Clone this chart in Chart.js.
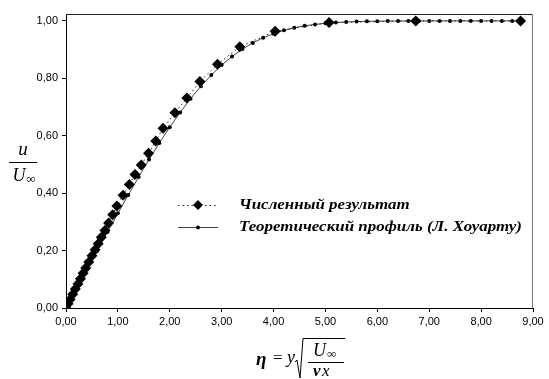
<!DOCTYPE html>
<html>
<head>
<meta charset="utf-8">
<script src="https://cdn.jsdelivr.net/npm/chart.js@4.4.1/dist/chart.umd.min.js"></script>
<style>
html,body{margin:0;padding:0;background:#fff;}
#wrap{position:relative;width:549px;height:379px;}
</style>
</head>
<body>
<div id="wrap"><canvas id="c" width="549" height="379"></canvas></div>
<script>
// Numerical result (diamonds, dotted line)
const numEta = [0.00,0.04,0.08,0.13,0.18,0.23,0.28,0.33,0.38,0.44,0.50,0.56,0.62,0.68,0.75,0.82,0.90,0.98,1.10,1.22,1.33,1.45,1.59,1.73,1.87,2.10,2.33,2.58,2.92,3.35,4.03,5.07,6.74,8.76];
const numU   = [0.000,0.015,0.030,0.048,0.066,0.084,0.102,0.121,0.139,0.160,0.182,0.203,0.224,0.246,0.270,0.296,0.325,0.355,0.393,0.430,0.465,0.498,0.539,0.582,0.626,0.680,0.731,0.789,0.849,0.910,0.964,0.994,1.000,1.000];
// Theoretical profile (Howarth), small dots, solid line
const theoryEta = [0.0,0.2,0.4,0.6,0.8,1.0,1.2,1.4,1.6,1.8,2.0,2.2,2.4,2.6,2.8,3.0,3.2,3.4,3.6,3.8,4.0,4.2,4.4,4.6,4.8,5.0,5.2,5.4,5.6,5.8,6.0,6.2,6.4,6.6,6.8,7.0,7.2,7.4,7.6,7.8,8.0,8.2,8.4,8.6,8.8];
const theoryU   = [0.0000,0.0664,0.1328,0.1989,0.2647,0.3298,0.3938,0.4563,0.5168,0.5748,0.6298,0.6813,0.7290,0.7725,0.8115,0.8461,0.8761,0.9018,0.9233,0.9411,0.9555,0.9670,0.9759,0.9827,0.9878,0.9916,0.9943,0.9962,0.9975,0.9984,0.9990,0.9994,0.9996,0.9998,0.9999,0.9999,1.0000,1.0000,1.0000,1.0000,1.0000,1.0000,1.0000,1.0000,1.0000];
const xTicks = [0,1,2,3,4,5,6,7,8,9];
const yTicks = [0,0.2,0.4,0.6,0.8,1.0];
const seriesNames = ['Численный результат','Теоретический профиль (Л. Хоуарту)'];

const fmt = v => v.toFixed(2).replace('.', ',');

const overlay = {
  id: 'overlay',
  afterDraw(chart) {
    const ctx = chart.ctx;
    const a = chart.chartArea;
    ctx.save();
    // frame top & right
    ctx.lineWidth = 1;
    ctx.strokeStyle = '#222';
    ctx.beginPath(); ctx.moveTo(a.left, a.top + 0.5); ctx.lineTo(a.right, a.top + 0.5); ctx.stroke();
    ctx.strokeStyle = '#777';
    ctx.beginPath(); ctx.moveTo(a.right - 0.5, a.top); ctx.lineTo(a.right - 0.5, a.bottom); ctx.stroke();

    // legend
    const lx0 = 178, lx1 = 218, lm = 198;
    const rows = [205, 227];
    ctx.strokeStyle = '#222';
    ctx.setLineDash([1.5, 3]);
    ctx.beginPath(); ctx.moveTo(lx0, rows[0] + 0.5); ctx.lineTo(lx1, rows[0] + 0.5); ctx.stroke();
    ctx.setLineDash([]);
    ctx.fillStyle = '#000';
    ctx.beginPath(); ctx.moveTo(lm, rows[0] - 5); ctx.lineTo(lm + 5, rows[0]); ctx.lineTo(lm, rows[0] + 5); ctx.lineTo(lm - 5, rows[0]); ctx.closePath(); ctx.fill();
    ctx.strokeStyle = '#444';
    ctx.beginPath(); ctx.moveTo(lx0, rows[1] + 0.5); ctx.lineTo(lx1, rows[1] + 0.5); ctx.stroke();
    ctx.beginPath(); ctx.arc(lm, rows[1] + 0.5, 2, 0, Math.PI * 2); ctx.fill();
    ctx.font = 'bold italic 15px "Liberation Serif"';
    ctx.textBaseline = 'middle';
    ctx.textAlign = 'left';
    const w = ctx.measureText(seriesNames[1]).width;
    const sx = 283 / w;
    ctx.save();
    ctx.translate(239, 0);
    ctx.scale(sx, 1);
    ctx.fillText(seriesNames[0], 0, rows[0]);
    ctx.fillText(seriesNames[1], 0, rows[1]);
    ctx.restore();

    // y-axis title u / U∞
    ctx.textAlign = 'center';
    ctx.font = 'italic 19px "Liberation Serif"';
    ctx.fillText('u', 23, 150);
    ctx.strokeStyle = '#000';
    ctx.beginPath(); ctx.moveTo(9, 162.5); ctx.lineTo(37, 162.5); ctx.stroke();
    ctx.font = 'italic 18px "Liberation Serif"';
    ctx.fillText('U', 19, 176);
    ctx.font = '13px "Liberation Serif"';
    ctx.fillText('∞', 31, 180);

    // x-axis title η = y sqrt(U∞/νx)
    ctx.textAlign = 'left';
    ctx.font = 'bold italic 19px "Liberation Serif"';
    ctx.fillText('η', 256, 360);
    ctx.font = '17px "Liberation Serif"';
    ctx.fillText('=', 273, 359);
    ctx.font = 'italic 18px "Liberation Serif"';
    ctx.fillText('y', 287, 358);
    // radical
    ctx.lineWidth = 1;
    ctx.beginPath();
    ctx.moveTo(295, 362); ctx.lineTo(297, 360); ctx.lineTo(300, 378); ctx.lineTo(303, 338.5); ctx.lineTo(345, 338.5);
    ctx.stroke();
    ctx.beginPath(); ctx.moveTo(308, 362.5); ctx.lineTo(344, 362.5); ctx.stroke();
    ctx.font = 'italic 18px "Liberation Serif"';
    ctx.fillText('U', 313, 351);
    ctx.font = '13px "Liberation Serif"';
    ctx.fillText('∞', 327, 355);
    ctx.font = 'bold italic 17px "Liberation Serif"';
    ctx.fillText('ν', 313, 372);
    ctx.font = 'italic 17px "Liberation Serif"';
    ctx.fillText('x', 322, 372);
    ctx.restore();
  }
};

new Chart(document.getElementById('c'), {
  type: 'scatter',
  data: {
    datasets: [
      {
        label: seriesNames[0],
        data: numEta.map((x, i) => ({x, y: numU[i]})),
        showLine: true,
        borderColor: '#222',
        borderWidth: 1,
        borderDash: [1.5, 3],
        pointStyle: 'rectRot',
        pointRadius: 5.5,
        pointBackgroundColor: '#000',
        pointBorderColor: '#000',
        pointBorderWidth: 0,
        order: 1
      },
      {
        label: seriesNames[1],
        data: theoryEta.map((x, i) => ({x, y: theoryU[i]})),
        showLine: true,
        borderColor: '#444',
        borderWidth: 1,
        pointStyle: 'circle',
        pointRadius: 2,
        pointBackgroundColor: '#000',
        pointBorderColor: '#000',
        pointBorderWidth: 0,
        order: 2
      }
    ]
  },
  options: {
    responsive: false,
    animation: false,
    devicePixelRatio: 1,
    layout: {padding: {top: 14, right: 16, left: 0, bottom: 0}},
    plugins: {legend: {display: false}, tooltip: {enabled: false}},
    scales: {
      x: {
        type: 'linear', min: 0, max: 9,
        afterBuildTicks: s => { s.ticks = xTicks.map(v => ({value: v})); },
        afterFit: s => { s.height = 71; },
        ticks: {callback: v => fmt(v), color: '#000', font: {family: '"Liberation Sans"', size: 11}, padding: 3, maxRotation: 0},
        grid: {display: true, drawOnChartArea: false, drawTicks: true, tickLength: 4, color: '#000'},
        border: {display: true, color: '#000', width: 1}
      },
      y: {
        type: 'linear', min: 0, max: 1.024,
        afterBuildTicks: s => { s.ticks = yTicks.map(v => ({value: v})); },
        afterFit: s => { s.width = 66; },
        ticks: {callback: v => fmt(v), color: '#000', font: {family: '"Liberation Sans"', size: 11}, padding: 4},
        grid: {display: true, drawOnChartArea: false, drawTicks: true, tickLength: 4, color: '#000'},
        border: {display: true, color: '#000', width: 1}
      }
    }
  },
  plugins: [overlay]
});
</script>
</body>
</html>
